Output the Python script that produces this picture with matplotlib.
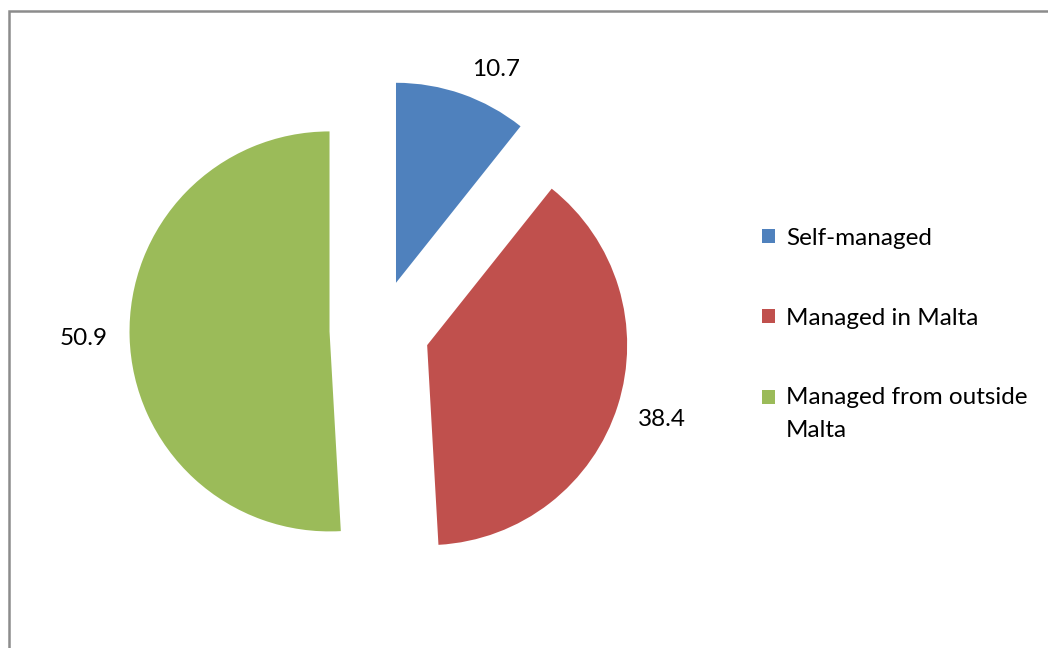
import matplotlib.pyplot as plt
from matplotlib.patches import Rectangle
from matplotlib.legend_handler import HandlerPatch

categories = ['Self-managed', 'Managed in Malta', 'Managed from outside\nMalta']
values = [10.7, 38.4, 50.9]
colors = ['#4F81BD', '#C0504D', '#9BBB59']

plt.rcParams['font.family'] = ['Lato', 'DejaVu Sans']

W, H = 1048, 648
fig = plt.figure(figsize=(W / 100, H / 100), dpi=100)
ax = fig.add_axes([0, 0, 1, 1])

wedges, texts, autotexts = ax.pie(values, colors=colors, startangle=90, counterclock=False,
                                  explode=[0.25] * 3, autopct=lambda p: '%.1f' % p,
                                  pctdistance=1.23, textprops={'fontsize': 17.5, 'color': '#000000'})
# small nudge of the first label (Excel puts it a bit right of the bisector)
x0, y0 = autotexts[0].get_position()
autotexts[0].set_position((x0 + 0.097, y0 - 0.094))

# pie centre at (379.5, 330) px, radius 200 px
cx, cy, r = 379.5, 330, 200
ax.set_xlim(-cx / r, (W - cx) / r)
ax.set_ylim((cy - H) / r, cy / r)
ax.set_aspect('auto')
ax.axis('off')


def top_square(legend, orig_handle, xdescent, ydescent, width, height, fontsize):
    # put the marker next to the first line of a two-line label
    return Rectangle((-xdescent, -ydescent + 12.3), width, height)


leg = ax.legend(wedges, categories, loc='upper left', bbox_to_anchor=(752 / W, 1 - 218 / H),
                frameon=False, fontsize=17.5, handlelength=0.54, handleheight=0.54,
                handletextpad=0.45, labelspacing=2.42, borderaxespad=0,
                handler_map={wedges[2]: HandlerPatch(patch_func=top_square)})
for t in leg.get_texts():
    t.set_linespacing(1.7)

# outer chart border (top and left visible)
fig.add_artist(Rectangle((9 / W, -0.1), 1.2, 1.1 - 11 / H, transform=fig.transFigure,
                         fill=False, edgecolor='#8c8c8c', linewidth=1.8))

plt.savefig('out.png', dpi=100)
